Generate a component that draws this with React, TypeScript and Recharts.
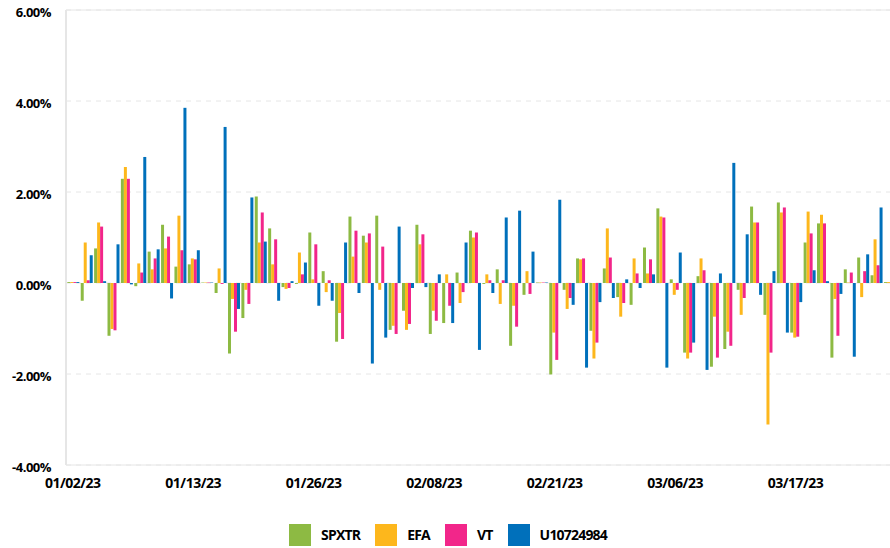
import { Bar, BarChart, CartesianGrid, Legend, ReferenceLine, XAxis, YAxis } from "recharts";

const dates = [
  "01/02/23", "01/03/23", "01/04/23", "01/05/23", "01/06/23", "01/09/23", "01/10/23", "01/11/23", "01/12/23", "01/13/23",
  "01/16/23", "01/17/23", "01/18/23", "01/19/23", "01/20/23", "01/23/23", "01/24/23", "01/25/23", "01/26/23", "01/27/23",
  "01/30/23", "01/31/23", "02/01/23", "02/02/23", "02/03/23", "02/06/23", "02/07/23", "02/08/23", "02/09/23", "02/10/23",
  "02/13/23", "02/14/23", "02/15/23", "02/16/23", "02/17/23", "02/20/23", "02/21/23", "02/22/23", "02/23/23", "02/24/23",
  "02/27/23", "02/28/23", "03/01/23", "03/02/23", "03/03/23", "03/06/23", "03/07/23", "03/08/23", "03/09/23", "03/10/23",
  "03/13/23", "03/14/23", "03/15/23", "03/16/23", "03/17/23", "03/20/23", "03/21/23", "03/22/23", "03/23/23", "03/24/23",
  "03/27/23", "03/28/23",
];

// daily returns, in percent
const spxtr = [
  0.02, -0.39, 0.76, -1.16, 2.29, -0.07, 0.69, 1.28, 0.36, 0.41,
  0.01, -0.22, -1.55, -0.77, 1.9, 1.2, -0.09, -0.02, 1.11, 0.26,
  -1.29, 1.46, 1.04, 1.48, -1.03, -0.61, 1.28, -1.12, -0.88, 0.23,
  1.15, -0.02, 0.3, -1.38, -0.26, 0.01, -2.01, -0.15, 0.54, -1.05,
  0.32, -0.31, -0.48, 0.78, 1.64, 0.08, -1.53, 0.15, -1.84, -1.45,
  -0.15, 1.68, -0.7, 1.77, -1.09, 0.89, 1.31, -1.64, 0.3, 0.56,
  0.17, 0.02,
];
const efa = [
  0.02, 0.89, 1.33, -1.01, 2.55, 0.43, 0.3, 0.76, 1.48, 0.54,
  0.01, 0.32, -0.35, -0.15, 0.89, 0.41, -0.13, 0.67, 0.08, -0.2,
  -0.66, 0.58, 0.89, -0.15, -0.94, -1.03, 0.85, -0.61, 0.19, -0.44,
  1.0, 0.19, -0.46, -0.5, 0.26, 0.01, -1.09, -0.57, 0.52, -1.66,
  1.2, -0.74, 0.54, 0.21, 1.46, -0.26, -1.66, 0.54, -0.74, -1.07,
  -0.7, 1.33, -3.11, 1.55, -1.2, 1.57, 1.5, -0.35, 0.01, -0.31,
  0.96, 0.02,
];
const vt = [
  0.02, 0.06, 1.24, -1.04, 2.29, 0.23, 0.54, 1.02, 0.72, 0.52,
  0.01, -0.02, -1.07, -0.46, 1.55, 0.96, -0.11, 0.19, 0.85, 0.06,
  -1.23, 1.15, 1.09, 0.8, -1.12, -0.9, 1.07, -0.83, -0.5, -0.2,
  1.11, 0.06, 0.06, -0.96, -0.24, 0.01, -1.69, -0.33, 0.54, -1.31,
  0.56, -0.44, 0.21, 0.52, 1.44, -0.15, -1.53, 0.28, -1.64, -1.38,
  -0.33, 1.33, -1.53, 1.66, -1.18, 1.09, 1.31, -1.16, 0.23, 0.26,
  0.39, 0.02,
];
const account = [
  0.02, 0.61, 0.04, 0.85, -0.03, 2.77, 0.74, -0.34, 3.85, 0.72,
  0.01, 3.43, -0.57, 1.88, 0.91, -0.39, 0.04, 0.45, -0.5, -0.39,
  0.89, -0.22, -1.77, -1.2, 1.24, -0.11, -0.09, 0.19, -0.88, 0.89,
  -1.47, -0.22, 1.44, 1.59, 0.69, 0.01, 1.83, -0.48, -1.86, -0.42,
  -0.33, 0.08, -0.11, 0.19, -1.86, 0.67, -1.31, -1.91, 0.21, 2.64,
  1.07, -0.26, 0.26, -1.09, -0.42, 0.28, 0.04, -0.24, -1.62, 0.63,
  1.66, 0.02,
];

const yTicks = [-4, -2, 0, 2, 4, 6];

const series = [
  { key: "SPXTR", color: "#8DBA43" },
  { key: "EFA", color: "#FDB71C" },
  { key: "VT", color: "#F2268A" },
  { key: "U10724984", color: "#0070BB" },
];

const rows = dates.map((date, i) => ({
  date,
  SPXTR: spxtr[i],
  EFA: efa[i],
  VT: vt[i],
  U10724984: account[i],
}));

const line = "#e6e6e6";

function LegendContent() {
  return (
    <div style={{ height: 53, display: "flex", justifyContent: "center", alignItems: "flex-end", paddingBottom: 2, boxSizing: "border-box" }}>
      {series.map((s, i) => (
        <div key={s.key} style={{ display: "flex", alignItems: "center", marginLeft: i === 0 ? 0 : 15 }}>
          <span style={{ width: 22, height: 22, background: s.color, display: "inline-block" }} />
          <span style={{ marginLeft: 10, fontSize: 14, fontWeight: 700, letterSpacing: -0.8, color: "#000", lineHeight: "22px" }}>
            {s.key}
          </span>
        </div>
      ))}
    </div>
  );
}

function XTick(p: any) {
  return (
    <text x={p.x} y={p.y} textAnchor="middle" fill="#000" fontSize={14} fontWeight={700} style={{ letterSpacing: -0.5 }}>
      {p.payload.value}
    </text>
  );
}

function YTick(p: any) {
  return (
    <text x={p.x} y={p.y + 7} textAnchor="end" fill="#000" fontSize={13} fontWeight={700} style={{ letterSpacing: -0.5 }}>
      {Number(p.payload.value).toFixed(2)}%
    </text>
  );
}

export default function App() {
  return (
    <div style={{ position: "fixed", left: 0, top: 0, width: 890, height: 548, overflow: "hidden", background: "#fff", fontFamily: "'Open Sans', sans-serif" }}>
      <BarChart width={898} height={548} data={rows} margin={{ top: 10, right: 2, left: 0, bottom: 0 }} barGap={0} barCategoryGap="10%">
        <CartesianGrid vertical={false} stroke={line} strokeDasharray="5 5" />
        <ReferenceLine y={6} stroke={line} />
        <XAxis dataKey="date" interval={8} tickLine={false} tickSize={0} tickMargin={23} height={30} axisLine={{ stroke: line }} tick={<XTick />} />
        <YAxis width={66} domain={[-4, 6]} ticks={yTicks} tickLine={false} tickMargin={9} axisLine={{ stroke: line, strokeWidth: 2 }} tick={<YTick />} />
        <Legend verticalAlign="bottom" height={53} content={() => <LegendContent />} />
        {series.map((s) => (
          <Bar key={s.key} dataKey={s.key} fill={s.color} isAnimationActive={false} />
        ))}
      </BarChart>
    </div>
  );
}
